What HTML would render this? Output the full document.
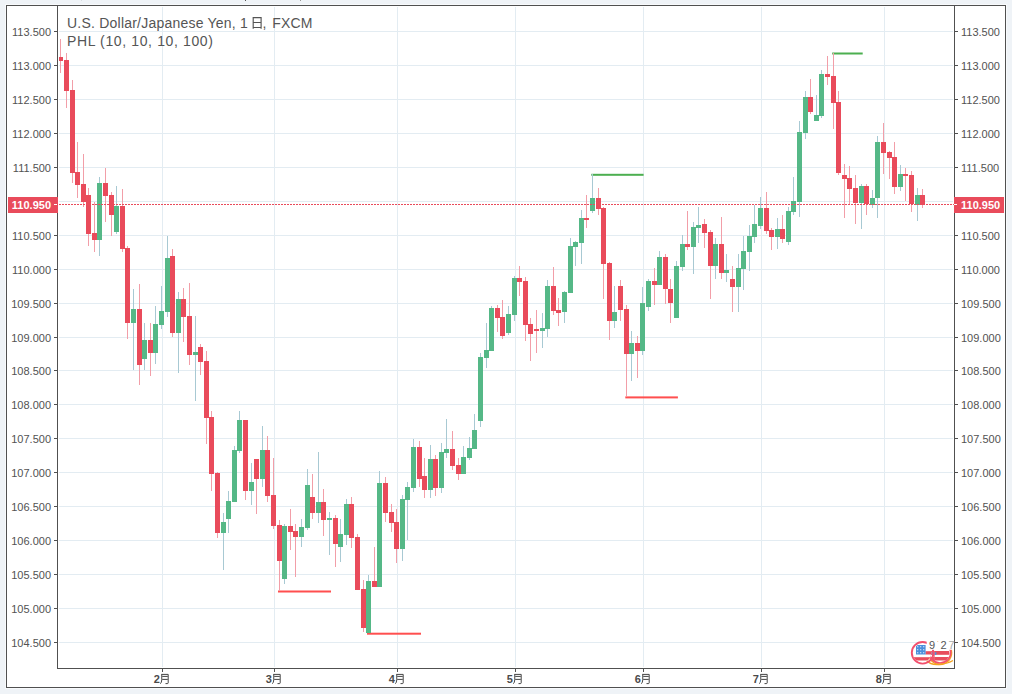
<!DOCTYPE html>
<html><head><meta charset="utf-8"><title>USDJPY</title>
<style>html,body{margin:0;padding:0;background:#eff3f7;overflow:hidden;}body{width:1012px;height:694px;font-family:"Liberation Sans",sans-serif;}svg{display:block}</style>
</head><body><svg width="1012" height="694" viewBox="0 0 1012 694" font-family="Liberation Sans, sans-serif"><rect x="0" y="0" width="1012" height="694" fill="#eff3f7"/><rect x="81" y="0" width="1" height="1" fill="#d8dde2"/><rect x="245" y="0" width="1" height="1" fill="#555"/><rect x="300" y="0" width="1" height="1" fill="#999"/><rect x="5" y="4" width="1002" height="685" fill="#f8fafc"/><rect x="6" y="5" width="1000" height="683" fill="#ffffff"/><rect x="59" y="31" width="894" height="1" fill="#e3ecf2"/><rect x="59" y="65" width="894" height="1" fill="#e3ecf2"/><rect x="59" y="99" width="894" height="1" fill="#e3ecf2"/><rect x="59" y="133" width="894" height="1" fill="#e3ecf2"/><rect x="59" y="167" width="894" height="1" fill="#e3ecf2"/><rect x="59" y="201" width="894" height="1" fill="#e3ecf2"/><rect x="59" y="235" width="894" height="1" fill="#e3ecf2"/><rect x="59" y="269" width="894" height="1" fill="#e3ecf2"/><rect x="59" y="303" width="894" height="1" fill="#e3ecf2"/><rect x="59" y="337" width="894" height="1" fill="#e3ecf2"/><rect x="59" y="370" width="894" height="1" fill="#e3ecf2"/><rect x="59" y="404" width="894" height="1" fill="#e3ecf2"/><rect x="59" y="438" width="894" height="1" fill="#e3ecf2"/><rect x="59" y="472" width="894" height="1" fill="#e3ecf2"/><rect x="59" y="506" width="894" height="1" fill="#e3ecf2"/><rect x="59" y="540" width="894" height="1" fill="#e3ecf2"/><rect x="59" y="574" width="894" height="1" fill="#e3ecf2"/><rect x="59" y="608" width="894" height="1" fill="#e3ecf2"/><rect x="59" y="642" width="894" height="1" fill="#e3ecf2"/><rect x="162" y="7" width="1" height="660" fill="#e3ecf2"/><rect x="274" y="7" width="1" height="660" fill="#e3ecf2"/><rect x="397" y="7" width="1" height="660" fill="#e3ecf2"/><rect x="515" y="7" width="1" height="660" fill="#e3ecf2"/><rect x="643" y="7" width="1" height="660" fill="#e3ecf2"/><rect x="761" y="7" width="1" height="660" fill="#e3ecf2"/><rect x="884" y="7" width="1" height="660" fill="#e3ecf2"/><rect x="278" y="590.5" width="53" height="2" fill="#ff4f4f"/><rect x="367" y="632.7" width="54" height="2" fill="#ff4f4f"/><rect x="625.3" y="396.4" width="52.6" height="2" fill="#ff4f4f"/><rect x="591.3" y="173.8" width="52.3" height="2" fill="#4caf50"/><rect x="832.2" y="52.5" width="30.5" height="2" fill="#4caf50"/><g><rect x="60" y="39" width="1" height="34" fill="#f29ea8"/><rect x="59" y="57" width="4" height="4" fill="#e94b5b"/><rect x="66" y="53" width="1" height="55" fill="#f29ea8"/><rect x="64" y="60" width="5" height="31" fill="#e94b5b"/><rect x="72" y="80" width="1" height="103" fill="#f29ea8"/><rect x="70" y="90" width="5" height="83" fill="#e94b5b"/><rect x="77" y="142" width="1" height="56" fill="#f29ea8"/><rect x="75" y="172" width="5" height="13" fill="#e94b5b"/><rect x="83" y="154" width="1" height="53" fill="#f29ea8"/><rect x="81" y="184" width="5" height="18" fill="#e94b5b"/><rect x="88" y="188" width="1" height="58" fill="#f29ea8"/><rect x="86" y="195" width="5" height="39" fill="#e94b5b"/><rect x="94" y="202" width="1" height="50" fill="#f29ea8"/><rect x="92" y="233" width="5" height="7" fill="#e94b5b"/><rect x="99" y="177" width="1" height="79" fill="#a8c9d3"/><rect x="97" y="183" width="5" height="57" fill="#55b887"/><rect x="105" y="168" width="1" height="54" fill="#f29ea8"/><rect x="103" y="183" width="5" height="13" fill="#e94b5b"/><rect x="111" y="192" width="1" height="44" fill="#f29ea8"/><rect x="109" y="195" width="5" height="20" fill="#e94b5b"/><rect x="116" y="186" width="1" height="48" fill="#a8c9d3"/><rect x="114" y="206" width="5" height="26" fill="#55b887"/><rect x="122" y="189" width="1" height="63" fill="#f29ea8"/><rect x="120" y="206" width="5" height="43" fill="#e94b5b"/><rect x="127" y="246" width="1" height="93" fill="#f29ea8"/><rect x="125" y="248" width="5" height="75" fill="#e94b5b"/><rect x="133" y="289" width="1" height="81" fill="#a8c9d3"/><rect x="131" y="309" width="5" height="14" fill="#55b887"/><rect x="139" y="284" width="1" height="101" fill="#f29ea8"/><rect x="137" y="309" width="5" height="56" fill="#e94b5b"/><rect x="144" y="323" width="1" height="47" fill="#a8c9d3"/><rect x="142" y="340" width="5" height="19" fill="#55b887"/><rect x="150" y="323" width="1" height="53" fill="#f29ea8"/><rect x="148" y="340" width="5" height="13" fill="#e94b5b"/><rect x="155" y="306" width="1" height="58" fill="#a8c9d3"/><rect x="153" y="324" width="5" height="29" fill="#55b887"/><rect x="161" y="286" width="1" height="43" fill="#a8c9d3"/><rect x="159" y="311" width="5" height="14" fill="#55b887"/><rect x="167" y="236" width="1" height="81" fill="#a8c9d3"/><rect x="165" y="258" width="5" height="54" fill="#55b887"/><rect x="172" y="249" width="1" height="88" fill="#f29ea8"/><rect x="170" y="256" width="5" height="77" fill="#e94b5b"/><rect x="178" y="292" width="1" height="81" fill="#a8c9d3"/><rect x="176" y="299" width="5" height="34" fill="#55b887"/><rect x="183" y="288" width="1" height="54" fill="#f29ea8"/><rect x="181" y="299" width="5" height="18" fill="#e94b5b"/><rect x="189" y="283" width="1" height="82" fill="#f29ea8"/><rect x="187" y="316" width="5" height="39" fill="#e94b5b"/><rect x="195" y="316" width="1" height="85" fill="#a8c9d3"/><rect x="193" y="352" width="5" height="3" fill="#55b887"/><rect x="200" y="344" width="1" height="31" fill="#f29ea8"/><rect x="198" y="347" width="5" height="15" fill="#e94b5b"/><rect x="206" y="351" width="1" height="93" fill="#f29ea8"/><rect x="204" y="361" width="5" height="57" fill="#e94b5b"/><rect x="211" y="411" width="1" height="80" fill="#f29ea8"/><rect x="209" y="417" width="5" height="57" fill="#e94b5b"/><rect x="217" y="472" width="1" height="66" fill="#f29ea8"/><rect x="215" y="473" width="5" height="60" fill="#e94b5b"/><rect x="223" y="513" width="1" height="57" fill="#a8c9d3"/><rect x="221" y="522" width="5" height="11" fill="#55b887"/><rect x="228" y="491" width="1" height="42" fill="#a8c9d3"/><rect x="226" y="501" width="5" height="18" fill="#55b887"/><rect x="234" y="446" width="1" height="56" fill="#a8c9d3"/><rect x="232" y="450" width="5" height="52" fill="#55b887"/><rect x="239" y="411" width="1" height="42" fill="#a8c9d3"/><rect x="237" y="420" width="5" height="31" fill="#55b887"/><rect x="245" y="420" width="1" height="80" fill="#f29ea8"/><rect x="243" y="420" width="5" height="71" fill="#e94b5b"/><rect x="251" y="463" width="1" height="42" fill="#a8c9d3"/><rect x="249" y="482" width="5" height="9" fill="#55b887"/><rect x="256" y="459" width="1" height="55" fill="#f29ea8"/><rect x="254" y="459" width="5" height="20" fill="#e94b5b"/><rect x="262" y="426" width="1" height="61" fill="#a8c9d3"/><rect x="260" y="450" width="5" height="29" fill="#55b887"/><rect x="267" y="436" width="1" height="66" fill="#f29ea8"/><rect x="265" y="450" width="5" height="46" fill="#e94b5b"/><rect x="273" y="458" width="1" height="71" fill="#f29ea8"/><rect x="271" y="495" width="5" height="31" fill="#e94b5b"/><rect x="279" y="520" width="1" height="71" fill="#f29ea8"/><rect x="277" y="525" width="5" height="36" fill="#e94b5b"/><rect x="284" y="524" width="1" height="60" fill="#a8c9d3"/><rect x="282" y="526" width="5" height="53" fill="#55b887"/><rect x="290" y="509" width="1" height="41" fill="#f29ea8"/><rect x="288" y="526" width="5" height="6" fill="#e94b5b"/><rect x="295" y="524" width="1" height="53" fill="#f29ea8"/><rect x="293" y="531" width="5" height="6" fill="#e94b5b"/><rect x="301" y="519" width="1" height="28" fill="#a8c9d3"/><rect x="299" y="527" width="5" height="10" fill="#55b887"/><rect x="307" y="469" width="1" height="61" fill="#a8c9d3"/><rect x="305" y="485" width="5" height="43" fill="#55b887"/><rect x="312" y="474" width="1" height="45" fill="#f29ea8"/><rect x="310" y="497" width="5" height="16" fill="#e94b5b"/><rect x="318" y="452" width="1" height="71" fill="#a8c9d3"/><rect x="316" y="502" width="5" height="11" fill="#55b887"/><rect x="323" y="489" width="1" height="47" fill="#f29ea8"/><rect x="321" y="502" width="5" height="18" fill="#e94b5b"/><rect x="329" y="512" width="1" height="43" fill="#a8c9d3"/><rect x="327" y="518" width="5" height="2" fill="#55b887"/><rect x="335" y="515" width="1" height="52" fill="#f29ea8"/><rect x="333" y="518" width="5" height="26" fill="#e94b5b"/><rect x="340" y="519" width="1" height="43" fill="#a8c9d3"/><rect x="338" y="534" width="5" height="13" fill="#55b887"/><rect x="346" y="499" width="1" height="46" fill="#a8c9d3"/><rect x="344" y="504" width="5" height="31" fill="#55b887"/><rect x="351" y="497" width="1" height="51" fill="#f29ea8"/><rect x="349" y="504" width="5" height="34" fill="#e94b5b"/><rect x="357" y="534" width="1" height="56" fill="#f29ea8"/><rect x="355" y="537" width="5" height="53" fill="#e94b5b"/><rect x="363" y="580" width="1" height="52" fill="#f29ea8"/><rect x="361" y="589" width="5" height="39" fill="#e94b5b"/><rect x="368" y="575" width="1" height="58" fill="#a8c9d3"/><rect x="366" y="581" width="5" height="52" fill="#55b887"/><rect x="374" y="547" width="1" height="40" fill="#f29ea8"/><rect x="372" y="581" width="5" height="6" fill="#e94b5b"/><rect x="379" y="471" width="1" height="116" fill="#a8c9d3"/><rect x="377" y="483" width="5" height="104" fill="#55b887"/><rect x="385" y="477" width="1" height="45" fill="#f29ea8"/><rect x="383" y="483" width="5" height="30" fill="#e94b5b"/><rect x="391" y="504" width="1" height="28" fill="#f29ea8"/><rect x="389" y="512" width="5" height="11" fill="#e94b5b"/><rect x="396" y="509" width="1" height="54" fill="#f29ea8"/><rect x="394" y="522" width="5" height="27" fill="#e94b5b"/><rect x="402" y="495" width="1" height="66" fill="#a8c9d3"/><rect x="400" y="499" width="5" height="50" fill="#55b887"/><rect x="407" y="482" width="1" height="58" fill="#a8c9d3"/><rect x="405" y="487" width="5" height="13" fill="#55b887"/><rect x="413" y="439" width="1" height="53" fill="#a8c9d3"/><rect x="411" y="447" width="5" height="41" fill="#55b887"/><rect x="419" y="441" width="1" height="46" fill="#f29ea8"/><rect x="417" y="447" width="5" height="32" fill="#e94b5b"/><rect x="424" y="458" width="1" height="40" fill="#f29ea8"/><rect x="422" y="476" width="5" height="14" fill="#e94b5b"/><rect x="430" y="445" width="1" height="53" fill="#a8c9d3"/><rect x="428" y="459" width="5" height="31" fill="#55b887"/><rect x="435" y="455" width="1" height="41" fill="#f29ea8"/><rect x="433" y="459" width="5" height="29" fill="#e94b5b"/><rect x="441" y="443" width="1" height="50" fill="#a8c9d3"/><rect x="439" y="452" width="5" height="36" fill="#55b887"/><rect x="446" y="419" width="1" height="39" fill="#a8c9d3"/><rect x="444" y="449" width="5" height="4" fill="#55b887"/><rect x="452" y="431" width="1" height="39" fill="#f29ea8"/><rect x="450" y="449" width="5" height="17" fill="#e94b5b"/><rect x="458" y="458" width="1" height="22" fill="#f29ea8"/><rect x="456" y="465" width="5" height="9" fill="#e94b5b"/><rect x="463" y="446" width="1" height="28" fill="#a8c9d3"/><rect x="461" y="457" width="5" height="17" fill="#55b887"/><rect x="469" y="437" width="1" height="23" fill="#a8c9d3"/><rect x="467" y="448" width="5" height="10" fill="#55b887"/><rect x="474" y="414" width="1" height="35" fill="#a8c9d3"/><rect x="472" y="430" width="5" height="19" fill="#55b887"/><rect x="480" y="353" width="1" height="74" fill="#a8c9d3"/><rect x="478" y="357" width="5" height="64" fill="#55b887"/><rect x="486" y="323" width="1" height="45" fill="#a8c9d3"/><rect x="484" y="350" width="5" height="8" fill="#55b887"/><rect x="491" y="306" width="1" height="45" fill="#a8c9d3"/><rect x="489" y="308" width="5" height="43" fill="#55b887"/><rect x="497" y="305" width="1" height="27" fill="#f29ea8"/><rect x="495" y="308" width="5" height="10" fill="#e94b5b"/><rect x="502" y="300" width="1" height="39" fill="#f29ea8"/><rect x="500" y="317" width="5" height="19" fill="#e94b5b"/><rect x="508" y="306" width="1" height="29" fill="#a8c9d3"/><rect x="506" y="314" width="5" height="19" fill="#55b887"/><rect x="514" y="276" width="1" height="45" fill="#a8c9d3"/><rect x="512" y="278" width="5" height="37" fill="#55b887"/><rect x="519" y="266" width="1" height="30" fill="#f29ea8"/><rect x="517" y="278" width="5" height="4" fill="#e94b5b"/><rect x="525" y="277" width="1" height="64" fill="#f29ea8"/><rect x="523" y="281" width="5" height="44" fill="#e94b5b"/><rect x="530" y="318" width="1" height="43" fill="#f29ea8"/><rect x="528" y="324" width="5" height="10" fill="#e94b5b"/><rect x="536" y="310" width="1" height="43" fill="#f29ea8"/><rect x="534" y="329" width="5" height="2" fill="#e94b5b"/><rect x="542" y="313" width="1" height="35" fill="#a8c9d3"/><rect x="540" y="328" width="5" height="3" fill="#55b887"/><rect x="547" y="280" width="1" height="57" fill="#a8c9d3"/><rect x="545" y="286" width="5" height="43" fill="#55b887"/><rect x="553" y="267" width="1" height="48" fill="#f29ea8"/><rect x="551" y="286" width="5" height="25" fill="#e94b5b"/><rect x="558" y="298" width="1" height="28" fill="#f29ea8"/><rect x="556" y="310" width="5" height="3" fill="#e94b5b"/><rect x="564" y="291" width="1" height="32" fill="#a8c9d3"/><rect x="562" y="292" width="5" height="20" fill="#55b887"/><rect x="570" y="238" width="1" height="55" fill="#a8c9d3"/><rect x="568" y="246" width="5" height="47" fill="#55b887"/><rect x="575" y="241" width="1" height="25" fill="#a8c9d3"/><rect x="573" y="242" width="5" height="5" fill="#55b887"/><rect x="581" y="210" width="1" height="54" fill="#a8c9d3"/><rect x="579" y="218" width="5" height="25" fill="#55b887"/><rect x="586" y="195" width="1" height="33" fill="#f29ea8"/><rect x="584" y="218" width="5" height="2" fill="#e94b5b"/><rect x="592" y="174" width="1" height="39" fill="#a8c9d3"/><rect x="590" y="198" width="5" height="13" fill="#55b887"/><rect x="598" y="188" width="1" height="27" fill="#f29ea8"/><rect x="596" y="198" width="5" height="11" fill="#e94b5b"/><rect x="603" y="207" width="1" height="92" fill="#f29ea8"/><rect x="601" y="208" width="5" height="56" fill="#e94b5b"/><rect x="609" y="262" width="1" height="78" fill="#f29ea8"/><rect x="607" y="263" width="5" height="58" fill="#e94b5b"/><rect x="614" y="286" width="1" height="42" fill="#a8c9d3"/><rect x="612" y="312" width="5" height="9" fill="#55b887"/><rect x="620" y="280" width="1" height="41" fill="#f29ea8"/><rect x="618" y="286" width="5" height="24" fill="#e94b5b"/><rect x="626" y="305" width="1" height="91" fill="#f29ea8"/><rect x="624" y="309" width="5" height="45" fill="#e94b5b"/><rect x="631" y="331" width="1" height="50" fill="#a8c9d3"/><rect x="629" y="343" width="5" height="11" fill="#55b887"/><rect x="637" y="336" width="1" height="42" fill="#f29ea8"/><rect x="635" y="343" width="5" height="8" fill="#e94b5b"/><rect x="642" y="287" width="1" height="68" fill="#a8c9d3"/><rect x="640" y="303" width="5" height="48" fill="#55b887"/><rect x="648" y="279" width="1" height="32" fill="#a8c9d3"/><rect x="646" y="281" width="5" height="26" fill="#55b887"/><rect x="654" y="268" width="1" height="37" fill="#f29ea8"/><rect x="652" y="281" width="5" height="4" fill="#e94b5b"/><rect x="659" y="251" width="1" height="34" fill="#a8c9d3"/><rect x="657" y="257" width="5" height="28" fill="#55b887"/><rect x="665" y="254" width="1" height="50" fill="#f29ea8"/><rect x="663" y="257" width="5" height="32" fill="#e94b5b"/><rect x="670" y="279" width="1" height="44" fill="#f29ea8"/><rect x="668" y="289" width="5" height="14" fill="#e94b5b"/><rect x="676" y="261" width="1" height="57" fill="#a8c9d3"/><rect x="674" y="266" width="5" height="52" fill="#55b887"/><rect x="682" y="235" width="1" height="36" fill="#a8c9d3"/><rect x="680" y="244" width="5" height="23" fill="#55b887"/><rect x="687" y="211" width="1" height="39" fill="#f29ea8"/><rect x="685" y="244" width="5" height="3" fill="#e94b5b"/><rect x="693" y="222" width="1" height="52" fill="#a8c9d3"/><rect x="691" y="227" width="5" height="20" fill="#55b887"/><rect x="698" y="207" width="1" height="36" fill="#a8c9d3"/><rect x="696" y="225" width="5" height="3" fill="#55b887"/><rect x="704" y="219" width="1" height="29" fill="#f29ea8"/><rect x="702" y="224" width="5" height="9" fill="#e94b5b"/><rect x="710" y="230" width="1" height="69" fill="#f29ea8"/><rect x="708" y="232" width="5" height="34" fill="#e94b5b"/><rect x="715" y="238" width="1" height="41" fill="#a8c9d3"/><rect x="713" y="244" width="5" height="22" fill="#55b887"/><rect x="721" y="217" width="1" height="62" fill="#f29ea8"/><rect x="719" y="244" width="5" height="29" fill="#e94b5b"/><rect x="726" y="254" width="1" height="28" fill="#a8c9d3"/><rect x="724" y="270" width="5" height="3" fill="#55b887"/><rect x="732" y="266" width="1" height="46" fill="#f29ea8"/><rect x="730" y="279" width="5" height="8" fill="#e94b5b"/><rect x="738" y="254" width="1" height="58" fill="#a8c9d3"/><rect x="736" y="268" width="5" height="19" fill="#55b887"/><rect x="743" y="236" width="1" height="54" fill="#a8c9d3"/><rect x="741" y="251" width="5" height="18" fill="#55b887"/><rect x="749" y="225" width="1" height="46" fill="#a8c9d3"/><rect x="747" y="236" width="5" height="16" fill="#55b887"/><rect x="754" y="205" width="1" height="38" fill="#a8c9d3"/><rect x="752" y="224" width="5" height="13" fill="#55b887"/><rect x="760" y="197" width="1" height="32" fill="#a8c9d3"/><rect x="758" y="208" width="5" height="18" fill="#55b887"/><rect x="766" y="192" width="1" height="42" fill="#f29ea8"/><rect x="764" y="208" width="5" height="23" fill="#e94b5b"/><rect x="771" y="228" width="1" height="22" fill="#f29ea8"/><rect x="769" y="230" width="5" height="7" fill="#e94b5b"/><rect x="777" y="218" width="1" height="31" fill="#a8c9d3"/><rect x="775" y="229" width="5" height="8" fill="#55b887"/><rect x="782" y="215" width="1" height="28" fill="#f29ea8"/><rect x="780" y="229" width="5" height="10" fill="#e94b5b"/><rect x="788" y="207" width="1" height="38" fill="#a8c9d3"/><rect x="786" y="211" width="5" height="31" fill="#55b887"/><rect x="793" y="177" width="1" height="38" fill="#a8c9d3"/><rect x="791" y="201" width="5" height="11" fill="#55b887"/><rect x="799" y="121" width="1" height="96" fill="#a8c9d3"/><rect x="797" y="132" width="5" height="70" fill="#55b887"/><rect x="805" y="91" width="1" height="48" fill="#a8c9d3"/><rect x="803" y="97" width="5" height="36" fill="#55b887"/><rect x="810" y="79" width="1" height="35" fill="#f29ea8"/><rect x="808" y="97" width="5" height="15" fill="#e94b5b"/><rect x="816" y="95" width="1" height="26" fill="#a8c9d3"/><rect x="814" y="115" width="5" height="6" fill="#55b887"/><rect x="821" y="70" width="1" height="48" fill="#a8c9d3"/><rect x="819" y="74" width="5" height="42" fill="#55b887"/><rect x="827" y="56" width="1" height="29" fill="#f29ea8"/><rect x="825" y="74" width="5" height="3" fill="#e94b5b"/><rect x="833" y="53" width="1" height="76" fill="#f29ea8"/><rect x="831" y="76" width="5" height="27" fill="#e94b5b"/><rect x="838" y="91" width="1" height="84" fill="#f29ea8"/><rect x="836" y="102" width="5" height="71" fill="#e94b5b"/><rect x="844" y="164" width="1" height="54" fill="#f29ea8"/><rect x="842" y="175" width="5" height="4" fill="#e94b5b"/><rect x="849" y="166" width="1" height="38" fill="#f29ea8"/><rect x="847" y="178" width="5" height="11" fill="#e94b5b"/><rect x="855" y="175" width="1" height="49" fill="#f29ea8"/><rect x="853" y="188" width="5" height="15" fill="#e94b5b"/><rect x="861" y="184" width="1" height="45" fill="#a8c9d3"/><rect x="859" y="186" width="5" height="17" fill="#55b887"/><rect x="866" y="184" width="1" height="31" fill="#f29ea8"/><rect x="864" y="186" width="5" height="18" fill="#e94b5b"/><rect x="872" y="190" width="1" height="18" fill="#a8c9d3"/><rect x="870" y="198" width="5" height="7" fill="#55b887"/><rect x="877" y="136" width="1" height="82" fill="#a8c9d3"/><rect x="875" y="142" width="5" height="56" fill="#55b887"/><rect x="883" y="123" width="1" height="51" fill="#f29ea8"/><rect x="881" y="142" width="5" height="11" fill="#e94b5b"/><rect x="889" y="151" width="1" height="28" fill="#f29ea8"/><rect x="887" y="152" width="5" height="6" fill="#e94b5b"/><rect x="894" y="142" width="1" height="52" fill="#f29ea8"/><rect x="892" y="157" width="5" height="30" fill="#e94b5b"/><rect x="900" y="165" width="1" height="26" fill="#a8c9d3"/><rect x="898" y="174" width="5" height="13" fill="#55b887"/><rect x="905" y="168" width="1" height="33" fill="#f29ea8"/><rect x="903" y="174" width="5" height="2" fill="#e94b5b"/><rect x="911" y="171" width="1" height="41" fill="#f29ea8"/><rect x="909" y="175" width="5" height="29" fill="#e94b5b"/><rect x="917" y="188" width="1" height="33" fill="#a8c9d3"/><rect x="915" y="195" width="5" height="10" fill="#55b887"/><rect x="922" y="189" width="1" height="19" fill="#f29ea8"/><rect x="920" y="195" width="5" height="10" fill="#e94b5b"/></g><line x1="59" y1="204.5" x2="954" y2="204.5" stroke="#e94b5b" stroke-width="1" stroke-dasharray="2,1"/><rect x="6" y="5" width="1000" height="1" fill="#505050"/><rect x="6" y="687" width="1000" height="1" fill="#505050"/><rect x="6" y="5" width="1" height="683" fill="#505050"/><rect x="1005" y="5" width="1" height="683" fill="#505050"/><rect x="57" y="5" width="1" height="664" fill="#505050"/><rect x="954" y="5" width="1" height="664" fill="#505050"/><rect x="57" y="668" width="898" height="1" fill="#505050"/><rect x="54" y="31" width="3" height="1" fill="#505050"/><rect x="955" y="31" width="3" height="1" fill="#505050"/><text x="51" y="35.5" text-anchor="end" font-size="11" fill="#525252">113.500</text><text x="961" y="35.5" font-size="11" fill="#525252">113.500</text><rect x="54" y="65" width="3" height="1" fill="#505050"/><rect x="955" y="65" width="3" height="1" fill="#505050"/><text x="51" y="69.5" text-anchor="end" font-size="11" fill="#525252">113.000</text><text x="961" y="69.5" font-size="11" fill="#525252">113.000</text><rect x="54" y="99" width="3" height="1" fill="#505050"/><rect x="955" y="99" width="3" height="1" fill="#505050"/><text x="51" y="103.5" text-anchor="end" font-size="11" fill="#525252">112.500</text><text x="961" y="103.5" font-size="11" fill="#525252">112.500</text><rect x="54" y="133" width="3" height="1" fill="#505050"/><rect x="955" y="133" width="3" height="1" fill="#505050"/><text x="51" y="137.5" text-anchor="end" font-size="11" fill="#525252">112.000</text><text x="961" y="137.5" font-size="11" fill="#525252">112.000</text><rect x="54" y="167" width="3" height="1" fill="#505050"/><rect x="955" y="167" width="3" height="1" fill="#505050"/><text x="51" y="171.5" text-anchor="end" font-size="11" fill="#525252">111.500</text><text x="961" y="171.5" font-size="11" fill="#525252">111.500</text><rect x="54" y="201" width="3" height="1" fill="#505050"/><rect x="955" y="201" width="3" height="1" fill="#505050"/><text x="51" y="205.5" text-anchor="end" font-size="11" fill="#525252">111.000</text><text x="961" y="205.5" font-size="11" fill="#525252">111.000</text><rect x="54" y="235" width="3" height="1" fill="#505050"/><rect x="955" y="235" width="3" height="1" fill="#505050"/><text x="51" y="239.5" text-anchor="end" font-size="11" fill="#525252">110.500</text><text x="961" y="239.5" font-size="11" fill="#525252">110.500</text><rect x="54" y="269" width="3" height="1" fill="#505050"/><rect x="955" y="269" width="3" height="1" fill="#505050"/><text x="51" y="273.5" text-anchor="end" font-size="11" fill="#525252">110.000</text><text x="961" y="273.5" font-size="11" fill="#525252">110.000</text><rect x="54" y="303" width="3" height="1" fill="#505050"/><rect x="955" y="303" width="3" height="1" fill="#505050"/><text x="51" y="307.5" text-anchor="end" font-size="11" fill="#525252">109.500</text><text x="961" y="307.5" font-size="11" fill="#525252">109.500</text><rect x="54" y="337" width="3" height="1" fill="#505050"/><rect x="955" y="337" width="3" height="1" fill="#505050"/><text x="51" y="341.5" text-anchor="end" font-size="11" fill="#525252">109.000</text><text x="961" y="341.5" font-size="11" fill="#525252">109.000</text><rect x="54" y="370" width="3" height="1" fill="#505050"/><rect x="955" y="370" width="3" height="1" fill="#505050"/><text x="51" y="374.5" text-anchor="end" font-size="11" fill="#525252">108.500</text><text x="961" y="374.5" font-size="11" fill="#525252">108.500</text><rect x="54" y="404" width="3" height="1" fill="#505050"/><rect x="955" y="404" width="3" height="1" fill="#505050"/><text x="51" y="408.5" text-anchor="end" font-size="11" fill="#525252">108.000</text><text x="961" y="408.5" font-size="11" fill="#525252">108.000</text><rect x="54" y="438" width="3" height="1" fill="#505050"/><rect x="955" y="438" width="3" height="1" fill="#505050"/><text x="51" y="442.5" text-anchor="end" font-size="11" fill="#525252">107.500</text><text x="961" y="442.5" font-size="11" fill="#525252">107.500</text><rect x="54" y="472" width="3" height="1" fill="#505050"/><rect x="955" y="472" width="3" height="1" fill="#505050"/><text x="51" y="476.5" text-anchor="end" font-size="11" fill="#525252">107.000</text><text x="961" y="476.5" font-size="11" fill="#525252">107.000</text><rect x="54" y="506" width="3" height="1" fill="#505050"/><rect x="955" y="506" width="3" height="1" fill="#505050"/><text x="51" y="510.5" text-anchor="end" font-size="11" fill="#525252">106.500</text><text x="961" y="510.5" font-size="11" fill="#525252">106.500</text><rect x="54" y="540" width="3" height="1" fill="#505050"/><rect x="955" y="540" width="3" height="1" fill="#505050"/><text x="51" y="544.5" text-anchor="end" font-size="11" fill="#525252">106.000</text><text x="961" y="544.5" font-size="11" fill="#525252">106.000</text><rect x="54" y="574" width="3" height="1" fill="#505050"/><rect x="955" y="574" width="3" height="1" fill="#505050"/><text x="51" y="578.5" text-anchor="end" font-size="11" fill="#525252">105.500</text><text x="961" y="578.5" font-size="11" fill="#525252">105.500</text><rect x="54" y="608" width="3" height="1" fill="#505050"/><rect x="955" y="608" width="3" height="1" fill="#505050"/><text x="51" y="612.5" text-anchor="end" font-size="11" fill="#525252">105.000</text><text x="961" y="612.5" font-size="11" fill="#525252">105.000</text><rect x="54" y="642" width="3" height="1" fill="#505050"/><rect x="955" y="642" width="3" height="1" fill="#505050"/><text x="51" y="646.5" text-anchor="end" font-size="11" fill="#525252">104.500</text><text x="961" y="646.5" font-size="11" fill="#525252">104.500</text><rect x="8" y="197" width="50" height="16" fill="#e94b5b"/><rect x="954" y="197" width="50" height="16" fill="#e94b5b"/><rect x="54" y="204" width="3" height="1" fill="#ffffff"/><rect x="954" y="204" width="3" height="1" fill="#ffffff"/><text x="51" y="208.8" text-anchor="end" font-size="11" font-weight="bold" fill="#ffffff">110.950</text><text x="961" y="208.8" font-size="11" font-weight="bold" fill="#ffffff">110.950</text><rect x="162" y="669" width="1" height="3" fill="#505050"/><text x="153.8" y="683" font-size="11" font-weight="bold" fill="#4a4a4a">2</text><g transform="translate(160,674)" fill="none" stroke="#454545" stroke-width="1.0"><path d="M1.75,0.4 V5.8 Q1.6,8.6 0.4,9.7"/><path d="M1.25,0.4 H8.2 V8.9 Q8.2,9.6 7.3,9.6 H5.5"/><path d="M2.2,2.4 H7.8"/><path d="M2.2,5.4 H7.8"/></g><rect x="274" y="669" width="1" height="3" fill="#505050"/><text x="265.8" y="683" font-size="11" font-weight="bold" fill="#4a4a4a">3</text><g transform="translate(272,674)" fill="none" stroke="#454545" stroke-width="1.0"><path d="M1.75,0.4 V5.8 Q1.6,8.6 0.4,9.7"/><path d="M1.25,0.4 H8.2 V8.9 Q8.2,9.6 7.3,9.6 H5.5"/><path d="M2.2,2.4 H7.8"/><path d="M2.2,5.4 H7.8"/></g><rect x="397" y="669" width="1" height="3" fill="#505050"/><text x="388.8" y="683" font-size="11" font-weight="bold" fill="#4a4a4a">4</text><g transform="translate(395,674)" fill="none" stroke="#454545" stroke-width="1.0"><path d="M1.75,0.4 V5.8 Q1.6,8.6 0.4,9.7"/><path d="M1.25,0.4 H8.2 V8.9 Q8.2,9.6 7.3,9.6 H5.5"/><path d="M2.2,2.4 H7.8"/><path d="M2.2,5.4 H7.8"/></g><rect x="515" y="669" width="1" height="3" fill="#505050"/><text x="506.8" y="683" font-size="11" font-weight="bold" fill="#4a4a4a">5</text><g transform="translate(513,674)" fill="none" stroke="#454545" stroke-width="1.0"><path d="M1.75,0.4 V5.8 Q1.6,8.6 0.4,9.7"/><path d="M1.25,0.4 H8.2 V8.9 Q8.2,9.6 7.3,9.6 H5.5"/><path d="M2.2,2.4 H7.8"/><path d="M2.2,5.4 H7.8"/></g><rect x="643" y="669" width="1" height="3" fill="#505050"/><text x="634.8" y="683" font-size="11" font-weight="bold" fill="#4a4a4a">6</text><g transform="translate(641,674)" fill="none" stroke="#454545" stroke-width="1.0"><path d="M1.75,0.4 V5.8 Q1.6,8.6 0.4,9.7"/><path d="M1.25,0.4 H8.2 V8.9 Q8.2,9.6 7.3,9.6 H5.5"/><path d="M2.2,2.4 H7.8"/><path d="M2.2,5.4 H7.8"/></g><rect x="761" y="669" width="1" height="3" fill="#505050"/><text x="752.8" y="683" font-size="11" font-weight="bold" fill="#4a4a4a">7</text><g transform="translate(759,674)" fill="none" stroke="#454545" stroke-width="1.0"><path d="M1.75,0.4 V5.8 Q1.6,8.6 0.4,9.7"/><path d="M1.25,0.4 H8.2 V8.9 Q8.2,9.6 7.3,9.6 H5.5"/><path d="M2.2,2.4 H7.8"/><path d="M2.2,5.4 H7.8"/></g><rect x="884" y="669" width="1" height="3" fill="#505050"/><text x="875.8" y="683" font-size="11" font-weight="bold" fill="#4a4a4a">8</text><g transform="translate(882,674)" fill="none" stroke="#454545" stroke-width="1.0"><path d="M1.75,0.4 V5.8 Q1.6,8.6 0.4,9.7"/><path d="M1.25,0.4 H8.2 V8.9 Q8.2,9.6 7.3,9.6 H5.5"/><path d="M2.2,2.4 H7.8"/><path d="M2.2,5.4 H7.8"/></g><text x="67" y="27.6" font-size="14" letter-spacing="0.22" fill="#555">U.S. Dollar/Japanese Yen, 1</text><g fill="none" stroke="#555" stroke-width="1.15"><path d="M253.2,17.1 V28.7 M261.1,17.1 V28.7 M253.2,17.6 H261.1 M253.2,22.5 H261.1 M253.2,27.5 H261.1"/></g><text x="262.6" y="27.6" font-size="14" fill="#555">,</text><text x="272.2" y="27.6" font-size="14" letter-spacing="0.2" fill="#555">FXCM</text><text x="67" y="45.5" font-size="14" letter-spacing="0.63" fill="#555">PHL (10, 10, 10, 100)</text><g><circle cx="940" cy="652.8" r="11.6" fill="none" stroke="#f5a21f" stroke-width="1.5"/><clipPath id="fc2"><circle cx="939.5" cy="653" r="10"/></clipPath><g clip-path="url(#fc2)"><rect x="925" y="640" width="30" height="26" fill="#fff"/><rect x="925" y="651" width="30" height="3.8" fill="#e84c5d"/><rect x="925" y="657" width="30" height="3.5" fill="#e84c5d"/><rect x="931.7" y="652.2" width="4.7" height="2.7" fill="#4b8fdb"/><rect x="933.6" y="651" width="1.1" height="10" fill="#f06a7d"/></g><circle cx="940" cy="652.2" r="10.8" fill="none" stroke="#f2506d" stroke-width="1.6"/><path d="M926.5,660.5 Q931,665.5 940,664.3 Q948,663.5 953,660.5" fill="none" stroke="#f5a21f" stroke-width="1.4"/><clipPath id="fc1"><circle cx="922" cy="653" r="9.3"/></clipPath><g clip-path="url(#fc1)"><rect x="911" y="642" width="22" height="22" fill="#ffffff"/><rect x="925.5" y="651.2" width="8" height="3.3" fill="#e84c5d"/><rect x="911" y="657.2" width="22" height="3.3" fill="#e84c5d"/><rect x="916" y="645" width="9.6" height="9.5" fill="#4b8fdb"/><rect x="917" y="646" width="1.3" height="1.3" fill="#b9d3f0"/><rect x="917" y="649" width="1.3" height="1.3" fill="#b9d3f0"/><rect x="917" y="652" width="1.3" height="1.3" fill="#b9d3f0"/><rect x="920" y="646" width="1.3" height="1.3" fill="#b9d3f0"/><rect x="920" y="649" width="1.3" height="1.3" fill="#b9d3f0"/><rect x="920" y="652" width="1.3" height="1.3" fill="#b9d3f0"/><rect x="923" y="646" width="1.3" height="1.3" fill="#b9d3f0"/><rect x="923" y="649" width="1.3" height="1.3" fill="#b9d3f0"/><rect x="923" y="652" width="1.3" height="1.3" fill="#b9d3f0"/></g><circle cx="922.6" cy="652.8" r="10.8" fill="none" stroke="#f2506d" stroke-width="1.9"/><rect x="926.7" y="639.8" width="27.3" height="10" fill="#ffffff"/><text x="929" y="648.8" font-size="11" fill="#555">9</text><text x="940.4" y="648.8" font-size="11" fill="#555">2</text><text x="948.4" y="648.8" font-size="11" fill="#a8a8a8">7</text><rect x="937.2" y="641" width="1" height="1" fill="#f8c9a0"/></g></svg></body></html>
